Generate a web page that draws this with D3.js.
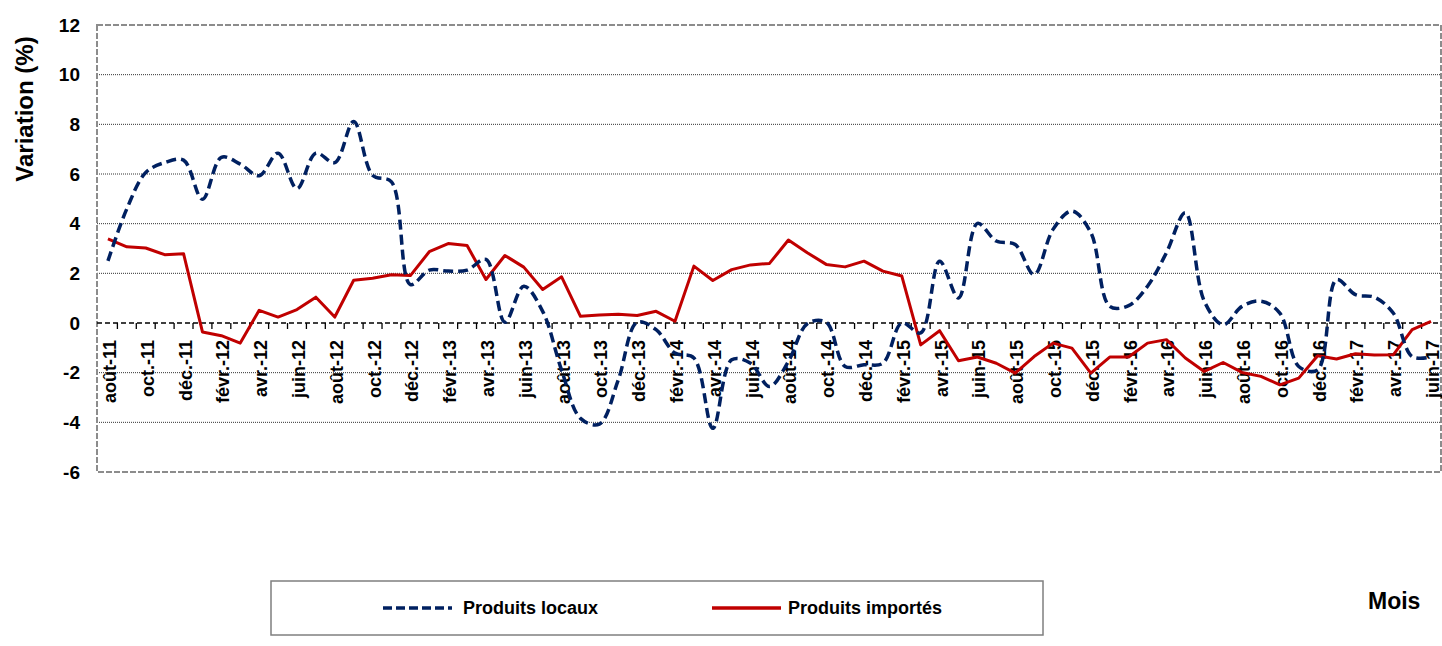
<!DOCTYPE html>
<html>
<head>
<meta charset="utf-8">
<script src="https://cdn.jsdelivr.net/npm/d3@7"></script>
<style>
  body { margin: 0; background: #fff; }
  svg { display: block; font-family: "Liberation Sans", Arial, sans-serif; font-weight: bold; }
</style>
</head>
<body>
<div id="chart"></div>
<script>
// monthly categories, aug 2011 -> jun 2017
var months = ["août-11","sept.-11","oct.-11","nov.-11","déc.-11",
  "janv.-12","févr.-12","mars-12","avr.-12","mai-12","juin-12","juil.-12","août-12","sept.-12","oct.-12","nov.-12","déc.-12",
  "janv.-13","févr.-13","mars-13","avr.-13","mai-13","juin-13","juil.-13","août-13","sept.-13","oct.-13","nov.-13","déc.-13",
  "janv.-14","févr.-14","mars-14","avr.-14","mai-14","juin-14","juil.-14","août-14","sept.-14","oct.-14","nov.-14","déc.-14",
  "janv.-15","févr.-15","mars-15","avr.-15","mai-15","juin-15","juil.-15","août-15","sept.-15","oct.-15","nov.-15","déc.-15",
  "janv.-16","févr.-16","mars-16","avr.-16","mai-16","juin-16","juil.-16","août-16","sept.-16","oct.-16","nov.-16","déc.-16",
  "janv.-17","févr.-17","mars-17","avr.-17","mai-17","juin-17"];

var locaux = [2.5, 4.6, 6.06, 6.46, 6.56, 4.98, 6.67, 6.40, 5.93, 6.84,
  5.41, 6.84, 6.46, 8.11, 5.95, 5.68, 1.55, 2.13, 2.09, 2.13,
  2.56, 0.03, 1.48, 0.47, -1.9, -3.84, -4.07, -2.29, 0.03, -0.27,
  -1.21, -1.41, -4.24, -1.48, -1.62, -2.56, -1.55, -0.03, 0.03, -1.75,
  -1.68, -1.62, 0.0, -0.4, 2.49, 1.01, 4.01, 3.30, 3.16, 1.95,
  3.77, 4.51, 3.64, 0.67, 0.70, 1.48, 2.83, 4.44, 0.88, -0.07,
  0.67, 0.88, 0.40, -1.75, -1.89, 1.75, 1.14, 1.04, 0.40, -1.35, -1.37];

var importes = [3.39, 3.07, 3.02, 2.75, 2.79, -0.36, -0.51, -0.81, 0.51, 0.24,
  0.54, 1.04, 0.24, 1.72, 1.80, 1.94, 1.91, 2.87, 3.20, 3.12,
  1.75, 2.72, 2.25, 1.35, 1.86, 0.27, 0.32, 0.35, 0.30, 0.47,
  0.07, 2.29, 1.71, 2.15, 2.34, 2.40, 3.34, 2.83, 2.36, 2.26,
  2.49, 2.09, 1.89, -0.88, -0.31, -1.52, -1.37, -1.62, -2.02, -1.35,
  -0.81, -1.01, -2.02, -1.37, -1.37, -0.81, -0.67, -1.41, -1.95, -1.59,
  -1.99, -2.15, -2.49, -2.22, -1.32, -1.45, -1.24, -1.29, -1.28, -0.27, 0.07];

var yTicks = [-6, -4, -2, 0, 2, 4, 6, 8, 10, 12];

var width = 1442, height = 646;
var plotL = 97, plotR = 1441, plotT = 25, plotB = 472;

var svg = d3.select("#chart").append("svg")
    .attr("width", width).attr("height", height);

var x = d3.scaleBand().domain(d3.range(months.length)).range([plotL + 1.5, plotR - 0.5]);
var y = d3.scaleLinear().domain([-6, 12]).range([plotB, plotT]);
var cx = function(i) { return x(i) + x.bandwidth() / 2; };

// gridlines
svg.append("g").selectAll("line")
  .data(yTicks.filter(function(d) { return d != 0 && d != 12 && d != -6; }))
  .enter().append("line")
    .attr("x1", plotL).attr("x2", plotR)
    .attr("y1", function(d) { return y(d); }).attr("y2", function(d) { return y(d); })
    .attr("stroke", "#333").attr("stroke-width", 1).attr("stroke-dasharray", "1,1");

// plot border
svg.append("rect")
  .attr("x", plotL).attr("y", plotT).attr("width", plotR - plotL).attr("height", plotB - plotT)
  .attr("fill", "none").attr("stroke", "#8c8c8c").attr("stroke-width", 2)
  .attr("stroke-dasharray", "6,2");

// y axis labels
svg.append("g").selectAll("text")
  .data(yTicks).enter().append("text")
    .attr("x", 80).attr("y", function(d) { return y(d); })
    .attr("dy", "0.35em").attr("text-anchor", "end")
    .attr("font-size", 19).attr("fill", "#000")
    .text(function(d) { return d; });

svg.append("text")
  .attr("transform", "translate(33,109) rotate(-90)")
  .attr("text-anchor", "middle").attr("font-size", 24)
  .text("Variation (%)");

// zero axis with ticks between categories
svg.append("line")
  .attr("x1", plotL).attr("x2", plotR).attr("y1", y(0)).attr("y2", y(0))
  .attr("stroke", "#000").attr("stroke-width", 1.3).attr("stroke-dasharray", "5,3");
svg.append("g").selectAll("line")
  .data(d3.range(1, months.length)).enter().append("line")
    .attr("x1", function(i) { return x(i); })
    .attr("x2", function(i) { return x(i); })
    .attr("y1", y(0)).attr("y2", y(0) + 6)
    .attr("stroke", "#000").attr("stroke-width", 1.3);

// x labels, every second month
svg.append("g").selectAll("text")
  .data(d3.range(0, months.length, 2)).enter().append("text")
    .attr("transform", function(i) { return "translate(" + (cx(i) + 8) + "," + (y(0) + 17) + ") rotate(-90)"; })
    .attr("text-anchor", "end").attr("font-size", 18)
    .text(function(i) { return months[i]; });

// lines
var lineLocaux = d3.line()
  .x(function(d, i) { return cx(i); })
  .y(function(d) { return y(d); })
  .curve(d3.curveCatmullRom.alpha(0.5));
var lineImportes = d3.line()
  .x(function(d, i) { return cx(i); })
  .y(function(d) { return y(d); });

svg.append("path").datum(importes)
  .attr("d", lineImportes).attr("fill", "none")
  .attr("stroke", "#c00000").attr("stroke-width", 3).attr("stroke-linejoin", "round");

svg.append("path").datum(locaux)
  .attr("d", lineLocaux).attr("fill", "none")
  .attr("stroke", "#002060").attr("stroke-width", 3.5).attr("stroke-dasharray", "10,5");

// legend
var lg = svg.append("g");
lg.append("rect").attr("x", 271).attr("y", 581).attr("width", 772).attr("height", 54)
  .attr("fill", "#fff").attr("stroke", "#7f7f7f").attr("stroke-width", 1.5);
lg.append("line").attr("x1", 383).attr("x2", 452).attr("y1", 608).attr("y2", 608)
  .attr("stroke", "#002060").attr("stroke-width", 3.5).attr("stroke-dasharray", "9,4");
lg.append("text").attr("x", 463).attr("y", 608).attr("dy", "0.35em")
  .attr("font-size", 18).text("Produits locaux");
lg.append("line").attr("x1", 712).attr("x2", 781).attr("y1", 608).attr("y2", 608)
  .attr("stroke", "#c00000").attr("stroke-width", 3.5);
lg.append("text").attr("x", 788).attr("y", 608).attr("dy", "0.35em")
  .attr("font-size", 18).text("Produits importés");

svg.append("text").attr("x", 1368).attr("y", 601).attr("dy", "0.35em")
  .attr("font-size", 23).text("Mois");
</script>
</body>
</html>
